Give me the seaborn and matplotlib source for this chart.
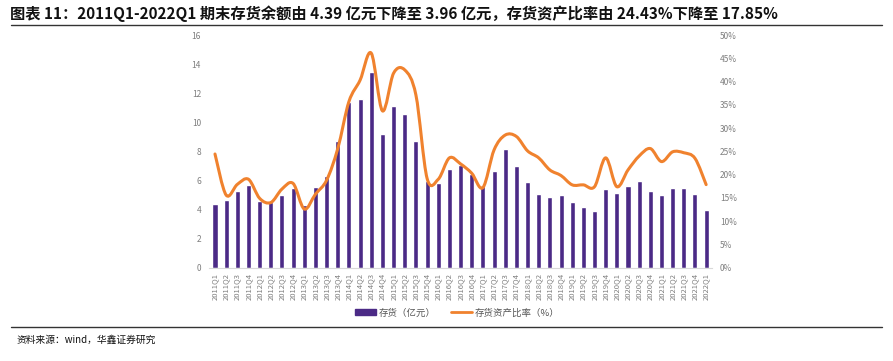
import numpy as np
import pandas as pd
import matplotlib
matplotlib.use("Agg")
import matplotlib.pyplot as plt
import seaborn as sns
from matplotlib.path import Path
from matplotlib.patches import PathPatch, Patch
from matplotlib.lines import Line2D

# ---- data ----
quarters = [f"{y}Q{q}" for y in range(2011, 2022) for q in range(1, 5)] + ["2022Q1"]
inventory = [4.39, 4.66, 5.30, 5.69, 4.56, 4.50, 5.02, 5.50, 4.33, 5.55, 6.33, 8.69,
             11.40, 11.63, 13.46, 9.17, 11.10, 10.60, 8.72, 5.96, 5.80, 6.79, 7.06, 6.47,
             5.64, 6.67, 8.14, 6.97, 5.87, 5.07, 4.89, 5.00, 4.50, 4.20, 3.92, 5.41,
             5.11, 5.60, 5.94, 5.30, 5.00, 5.48, 5.46, 5.07, 3.96]
ratio = [24.43, 15.6, 17.9, 19.0, 14.9, 14.0, 16.9, 18.1, 12.6, 15.8, 18.8, 25.6,
         35.7, 40.3, 46.1, 33.7, 41.8, 42.5, 37.1, 19.2, 19.0, 23.6, 22.3, 20.3,
         17.2, 25.3, 28.5, 28.2, 25.1, 23.6, 21.0, 19.8, 17.8, 17.8, 17.4, 23.6,
         17.4, 21.0, 24.0, 25.6, 22.8, 24.9, 24.7, 23.5, 17.85]

BAR_COLOR = "#4b2a86"
LINE_COLOR = "#f0822e"
TICK_COLOR = "#7f7f7f"

sns.set_style("white")
plt.rcParams['font.family'] = ['Noto Sans CJK SC', 'DejaVu Sans']

df = pd.DataFrame({"quarter": quarters, "inventory": inventory, "ratio": ratio})

fig = plt.figure(figsize=(8.93, 3.61), dpi=100)
ax = fig.add_axes([0.2345, 0.2585, 0.5625, 0.6445])

sns.barplot(data=df, x="quarter", y="inventory", color=BAR_COLOR, width=0.45,
            saturation=1, ax=ax)
ax.set_ylim(0, 16)
ax.set_yticks(range(0, 17, 2))
ax.set_xlim(-0.5, len(quarters) - 0.5)
ax.set_xlabel("")
ax.set_ylabel("")
ax.tick_params(axis="y", labelsize=6, colors=TICK_COLOR, length=0, pad=6)
ax.tick_params(axis="x", labelsize=5.5, colors=TICK_COLOR, length=0, pad=4,
               labelrotation=90)
for s in ["top", "left", "right"]:
    ax.spines[s].set_visible(False)
ax.spines["bottom"].set_color("#d9d9d9")

# secondary axis: smoothed ratio line (Excel style bezier through the points)
ax2 = ax.twinx()
ax2.set_ylim(0, 50)
ax2.set_yticks(range(0, 51, 5))
ax2.set_yticklabels([f"{v}%" for v in range(0, 51, 5)])
ax2.tick_params(axis="y", labelsize=6, colors=TICK_COLOR, length=0, pad=6)
for s in ax2.spines.values():
    s.set_visible(False)

xs = np.arange(len(ratio), dtype=float)
ys = np.array(ratio, dtype=float)
verts = [(xs[0], ys[0])]
codes = [Path.MOVETO]
t = 1 / 6
for i in range(len(xs) - 1):
    p0 = (xs[max(i - 1, 0)], ys[max(i - 1, 0)])
    p1 = (xs[i], ys[i])
    p2 = (xs[i + 1], ys[i + 1])
    p3 = (xs[min(i + 2, len(xs) - 1)], ys[min(i + 2, len(xs) - 1)])
    c1 = (p1[0] + (p2[0] - p0[0]) * t, p1[1] + (p2[1] - p0[1]) * t)
    c2 = (p2[0] - (p3[0] - p1[0]) * t, p2[1] - (p3[1] - p1[1]) * t)
    verts += [c1, c2, p2]
    codes += [Path.CURVE4] * 3
ax2.add_patch(PathPatch(Path(verts, codes), facecolor="none", edgecolor=LINE_COLOR,
                        lw=2.2, capstyle="round", joinstyle="round"))

handles = [Patch(facecolor=BAR_COLOR, edgecolor=BAR_COLOR),
           Line2D([0], [0], color=LINE_COLOR, lw=2)]
fig.legend(handles, ["存货（亿元）", "存货资产比率（%）"], loc="center",
           bbox_to_anchor=(0.512, 0.133), ncol=2, frameon=False, fontsize=6.8,
           handlelength=2.2, handleheight=0.6, handletextpad=0.3,
           columnspacing=1.6, labelcolor="#555555")

# title, rules and source
fig.text(0.011, 0.962, "图表 11：2011Q1-2022Q1 期末存货余额由 4.39 亿元下降至 3.96 亿元，"
         "存货资产比率由 24.43%下降至 17.85%", fontsize=11, fontweight="bold",
         ha="left", va="center", color="#111111")
fig.add_artist(Line2D([0.012, 0.988], [0.93, 0.93], color="#333333", lw=1))
fig.add_artist(Line2D([0.012, 0.988], [0.095, 0.095], color="#333333", lw=1))
fig.text(0.018, 0.058, "资料来源：wind，华鑫证券研究", fontsize=7, ha="left",
         va="center", color="#111111")

fig.savefig("out.png", dpi=100)
